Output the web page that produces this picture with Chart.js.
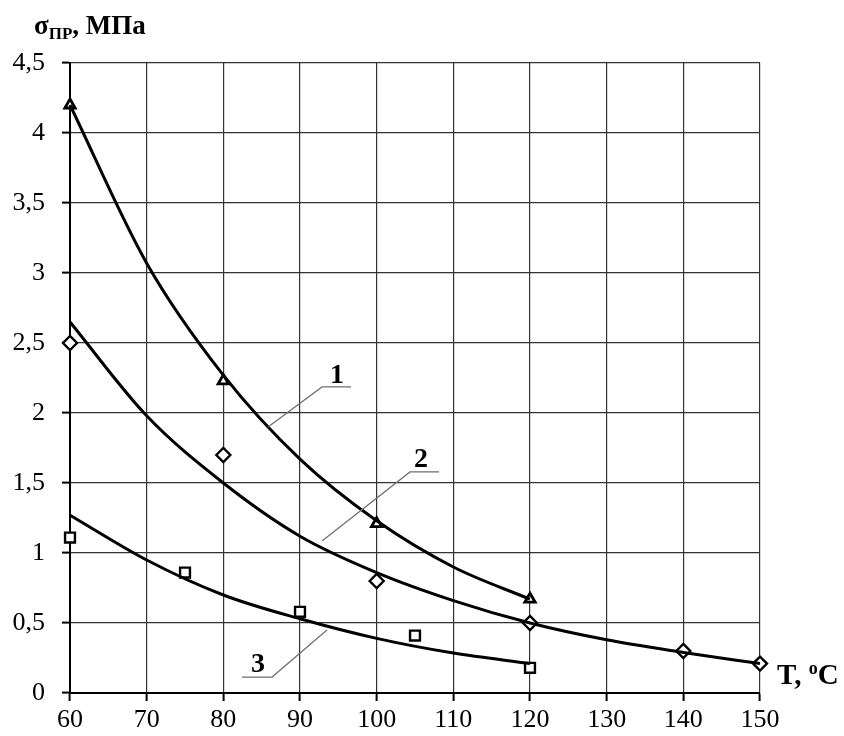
<!DOCTYPE html>
<html>
<head>
<meta charset="utf-8">
<script src="https://cdn.jsdelivr.net/npm/chart.js@4/dist/chart.umd.min.js"></script>
<style>
  html, body { margin: 0; padding: 0; background: #fff; }
  #wrap { width: 844px; height: 736px; }
</style>
</head>
<body>
<div id="wrap"><canvas id="grafico" width="844" height="736"></canvas></div>
<script>
// Температура, °C
const tempCurve1 = [60, 70, 80, 90, 100, 110, 120];
const tempCurve2 = [60, 70, 80, 90, 100, 110, 120, 130, 140, 150];
const tempCurve3 = [60, 70, 80, 90, 100, 110, 120];

// Аппроксимирующие кривые
const sigmaCurve1 = [4.2, 3.07, 2.27, 1.67, 1.23, 0.9, 0.67];
const sigmaCurve2 = [2.65, 1.98, 1.5, 1.12, 0.86, 0.66, 0.5, 0.38, 0.29, 0.21];
const sigmaCurve3 = [1.27, 0.95, 0.7, 0.53, 0.39, 0.285, 0.21];

// Экспериментальные точки
const tempPts1 = [60, 80, 100, 120];
const sigmaPts1 = [4.2, 2.23, 1.21, 0.67];
const tempPts2 = [60, 80, 100, 120, 140, 150];
const sigmaPts2 = [2.5, 1.7, 0.8, 0.5, 0.3, 0.21];
const tempPts3 = [60, 75, 90, 105, 120];
const sigmaPts3 = [1.11, 0.86, 0.58, 0.41, 0.18];

// Номера кривых
const curveLabels = ['1', '2', '3'];

const toXY = (xs, ys) => xs.map((x, i) => ({ x, y: ys[i] }));

const lineSet = (xs, ys) => ({
    data: toXY(xs, ys),
    showLine: true,
    borderColor: '#000',
    borderWidth: 3,
    pointRadius: 0,
    cubicInterpolationMode: 'monotone',
    clip: false
});

const pointSet = (xs, ys, style, r, bw) => ({
    data: toXY(xs, ys),
    showLine: false,
    pointStyle: style,
    pointRadius: r,
    pointBorderColor: '#000',
    pointBackgroundColor: '#fff',
    pointBorderWidth: bw,
    clip: false
});

// положение выносок в единицах осей
const leaders = [
    { text: curveLabels[0], tx: 94.83, ty: 2.214, ux0: 92.87, ux1: 96.65, uy: 2.186, ex: 85.83, ey: 1.9 },
    { text: curveLabels[1], tx: 105.78, ty: 1.614, ux0: 104.35, ux1: 108.13, uy: 1.579, ex: 92.87, ey: 1.086 },
    { text: curveLabels[2], tx: 84.52, ty: 0.15, ux0: 82.43, ux1: 86.35, uy: 0.114, ex: 93.52, ey: 0.45 }
];

const textPlugin = {
    id: 'textPlugin',
    afterDraw(chart) {
        const { ctx, scales: { x, y } } = chart;
        ctx.save();

        // выноски
        leaders.forEach(l => {
            // выноска идёт от ближнего к кривой конца подчёркивания
            const toRight = l.ex > l.ux1;
            const start = toRight ? l.ux0 : l.ux1;
            const corner = toRight ? l.ux1 : l.ux0;
            ctx.strokeStyle = '#6e6e6e';
            ctx.lineWidth = 1.2;
            ctx.beginPath();
            ctx.moveTo(x.getPixelForValue(start), y.getPixelForValue(l.uy));
            ctx.lineTo(x.getPixelForValue(corner), y.getPixelForValue(l.uy));
            ctx.lineTo(x.getPixelForValue(l.ex), y.getPixelForValue(l.ey));
            ctx.stroke();
            ctx.fillStyle = '#000';
            ctx.font = 'bold 28px "Liberation Serif", serif';
            ctx.textAlign = 'center';
            ctx.textBaseline = 'alphabetic';
            ctx.fillText(l.text, x.getPixelForValue(l.tx), y.getPixelForValue(l.ty));
        });

        // подпись оси Y
        ctx.fillStyle = '#000';
        ctx.textAlign = 'left';
        ctx.textBaseline = 'alphabetic';
        ctx.font = 'bold 27px "Liberation Serif", serif';
        let px = 34;
        ctx.fillText('σ', px, 34);
        px += ctx.measureText('σ').width;
        ctx.font = 'bold 17px "Liberation Serif", serif';
        ctx.fillText('ПР', px, 39);
        px += ctx.measureText('ПР').width;
        ctx.font = 'bold 27px "Liberation Serif", serif';
        ctx.fillText(', МПа', px, 34);

        // подпись оси X
        px = 777;
        ctx.font = 'bold 29px "Liberation Serif", serif';
        ctx.fillText('T, ', px, 684);
        px += ctx.measureText('T, ').width;
        ctx.font = 'bold 18px "Liberation Serif", serif';
        ctx.fillText('o', px, 674);
        px += ctx.measureText('o').width;
        ctx.font = 'bold 29px "Liberation Serif", serif';
        ctx.fillText('C', px, 684);

        ctx.restore();
    }
};

const tickFont = { family: '"Liberation Serif", serif', size: 26 };

new Chart(document.getElementById('grafico'), {
    type: 'scatter',
    data: {
        datasets: [
            lineSet(tempCurve1, sigmaCurve1),
            lineSet(tempCurve2, sigmaCurve2),
            lineSet(tempCurve3, sigmaCurve3),
            pointSet(tempPts1, sigmaPts1, 'triangle', 6, 2.8),
            pointSet(tempPts2, sigmaPts2, 'rectRot', 7, 2.4),
            pointSet(tempPts3, sigmaPts3, 'rect', 7, 2.4)
        ]
    },
    options: {
        responsive: false,
        animation: false,
        layout: { padding: { top: 63, right: 84, left: 0, bottom: 0 } },
        plugins: {
            legend: { display: false },
            tooltip: { enabled: false }
        },
        scales: {
            x: {
                type: 'linear',
                min: 60,
                max: 150,
                afterFit: (s) => { s.height = 43; },
                ticks: { stepSize: 10, color: '#000', font: tickFont, padding: 4 },
                grid: { color: '#333', lineWidth: 1.2, tickLength: 8, tickColor: '#000', tickWidth: 2 },
                border: { color: '#000', width: 2 }
            },
            y: {
                min: 0,
                max: 4.5,
                afterFit: (s) => { s.width = 70; },
                ticks: {
                    stepSize: 0.5,
                    color: '#000',
                    font: tickFont,
                    padding: 17,
                    callback: (v) => String(v).replace('.', ',')
                },
                grid: { color: '#333', lineWidth: 1.2, tickLength: 8, tickColor: '#000', tickWidth: 2 },
                border: { color: '#000', width: 2 }
            }
        }
    },
    plugins: [textPlugin]
});
</script>
</body>
</html>
